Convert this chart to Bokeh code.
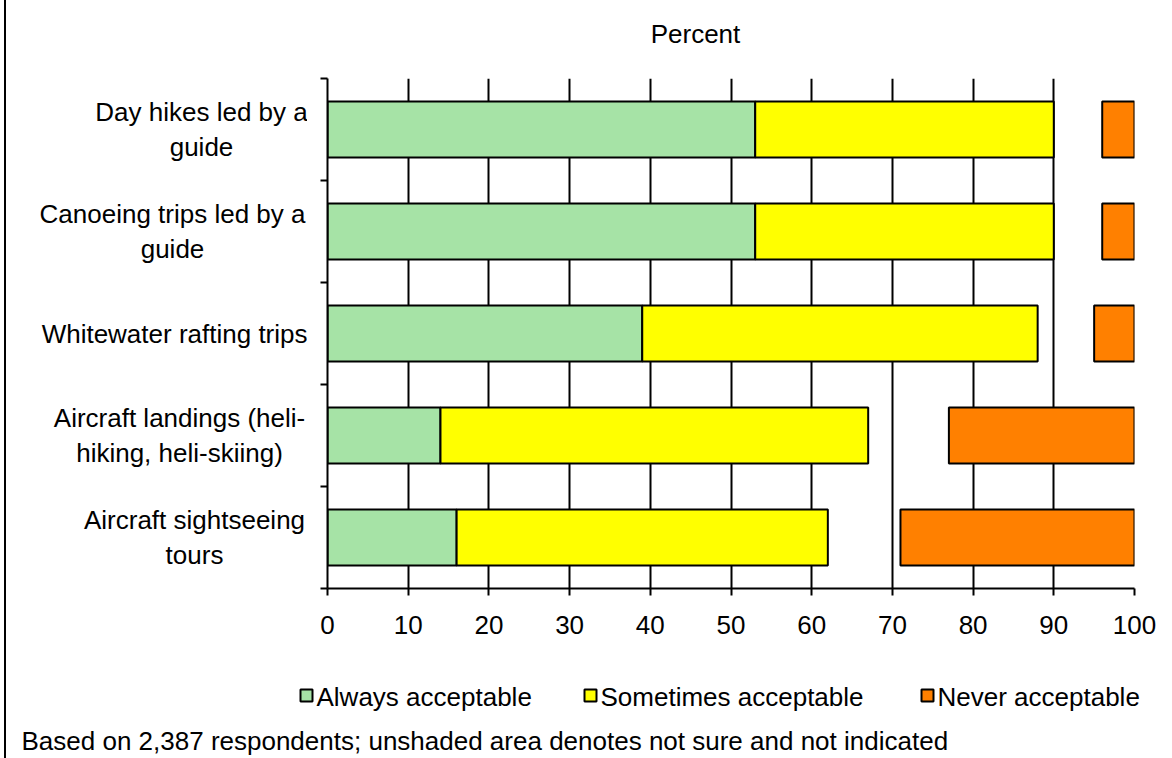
from bokeh.plotting import figure
from bokeh.layouts import column, row
from bokeh.models import Range1d, FixedTicker, ColumnDataSource, CustomJSTickFormatter
from bokeh.core.properties import value
from bokeh.embed import file_html
from bokeh.resources import INLINE

# Survey results: share of respondents (percent) by activity, top row first
activities = [
    "Day hikes led by a\nguide",
    "Canoeing trips led by a\nguide",
    "Whitewater rafting trips",
    "Aircraft landings (heli-\nhiking, heli-skiing)",
    "Aircraft sightseeing\ntours",
]
always = [53, 53, 39, 14, 16]
sometimes = [37, 37, 49, 53, 46]
never = [4, 4, 5, 23, 29]
x_ticks = [0, 10, 20, 30, 40, 50, 60, 70, 80, 90, 100]

series_names = ["Always acceptable", "Sometimes acceptable", "Never acceptable"]
series_colors = ["#a6e3a6", "#ffff00", "#ff8000"]

axis_title = "Percent"
footnote = "Based on 2,387 respondents; unshaded area denotes not sure and not indicated"

FONT = "Liberation Sans"
FS = "26px"
W = 1166            # canvas width (page is 1172 incl. the left rule)


def blank(width, height, x_range, y_range):
    f = figure(width=width, height=height, output_backend="svg", toolbar_location=None,
               x_range=x_range, y_range=y_range, x_axis_type=None, y_axis_type=None,
               min_border_left=0, min_border_right=0, min_border_top=0, min_border_bottom=0,
               outline_line_color=None, background_fill_color="white",
               border_fill_color="white")
    f.grid.visible = False
    return f


n = len(activities)
rows = [n - i - 0.5 for i in range(n)]          # row centres, first activity on top
right_sometimes = [a + s for a, s in zip(always, sometimes)]

src = ColumnDataSource(dict(
    y=rows,
    a0=[0] * n, a1=always,
    s0=always, s1=right_sometimes,
    n0=[100 - v for v in never], n1=[100] * n,
))

# ---- main bar chart ----
p = figure(width=865, height=574, output_backend="svg", toolbar_location=None,
           x_range=Range1d(0, 100), y_range=Range1d(0, n),
           min_border_left=20, min_border_right=38, min_border_top=4, min_border_bottom=60,
           background_fill_color="white", border_fill_color="white",
           outline_line_color=None)

H = 0.55
for (lo, hi), color in zip([("a0", "a1"), ("s0", "s1"), ("n0", "n1")], series_colors):
    p.hbar(y="y", left=lo, right=hi, height=H, source=src,
           fill_color=color, line_color="black", line_width=2)

p.xaxis.ticker = FixedTicker(ticks=x_ticks)
p.xaxis.axis_line_width = 2
p.xaxis.major_tick_line_width = 2
p.xaxis.major_tick_out = 7
p.xaxis.major_tick_in = 0
p.xaxis.minor_tick_line_color = None
p.xaxis.major_label_text_font = FONT
p.xaxis.major_label_text_font_size = FS
p.xaxis.major_label_text_color = "black"
p.xaxis.major_label_standoff = 20
p.xgrid.ticker = FixedTicker(ticks=x_ticks)
p.xgrid.grid_line_color = "black"
p.xgrid.grid_line_width = 2
p.ygrid.grid_line_color = None

# y axis: tick marks on the category boundaries only
p.yaxis.ticker = FixedTicker(ticks=list(range(n + 1)))
p.yaxis.axis_line_width = 2
p.yaxis.major_tick_line_width = 2
p.yaxis.major_tick_out = 7
p.yaxis.major_tick_in = 0
p.yaxis.minor_tick_line_color = None
p.yaxis.formatter = CustomJSTickFormatter(code="return ''")

# ---- category labels, sharing the chart's vertical scale ----
lab = figure(width=301, height=574, output_backend="svg", toolbar_location=None,
             x_range=Range1d(0, 301), y_range=p.y_range, x_axis_type=None, y_axis_type=None,
             min_border_left=0, min_border_right=0, min_border_top=4, min_border_bottom=60,
             outline_line_color=None, background_fill_color="white", border_fill_color="white")
lab.grid.visible = False
label_x = [195, 166, 301, 173, 188]
centered = [i for i, t in enumerate(activities) if "\n" in t]
single = [i for i, t in enumerate(activities) if "\n" not in t]
for idx, align in ((centered, "center"), (single, "right")):
    lab.text(x=[label_x[i] for i in idx], y=[rows[i] for i in idx],
             text=[activities[i] for i in idx],
             text_font=value(FONT), text_font_size=FS, text_color="black",
             text_align=align, text_baseline="middle", text_line_height=1.17)

# ---- axis title strip ----
top = blank(W, 74, Range1d(0, W), Range1d(74, 0))
top.text(x=[689], y=[33], text=[axis_title], text_font=value(FONT), text_font_size=FS,
         text_color="black", text_align="center", text_baseline="middle")

# ---- legend and footnote strip ----
foot = blank(W, 110, Range1d(0, W), Range1d(110, 0))
key_left = [294, 578, 915]
key_size = 12
foot.quad(left=key_left, right=[k + key_size for k in key_left],
          top=[47 - key_size / 2] * 3, bottom=[47 + key_size / 2] * 3,
          fill_color=series_colors, line_color="black", line_width=2)
foot.text(x=[k + key_size + 4 for k in key_left], y=[48] * 3, text=series_names,
          text_font=value(FONT), text_font_size=FS, text_color="black",
          text_align="left", text_baseline="middle")
foot.text(x=[15], y=[92], text=[footnote], text_font=value(FONT), text_font_size=FS,
          text_color="black", text_align="left", text_baseline="middle")

page = column(top, row(lab, p, spacing=0), foot, spacing=0,
              styles={"border-left": "2px solid black", "margin-left": "4px"})

open("out.html", "w").write(file_html(page, INLINE))
